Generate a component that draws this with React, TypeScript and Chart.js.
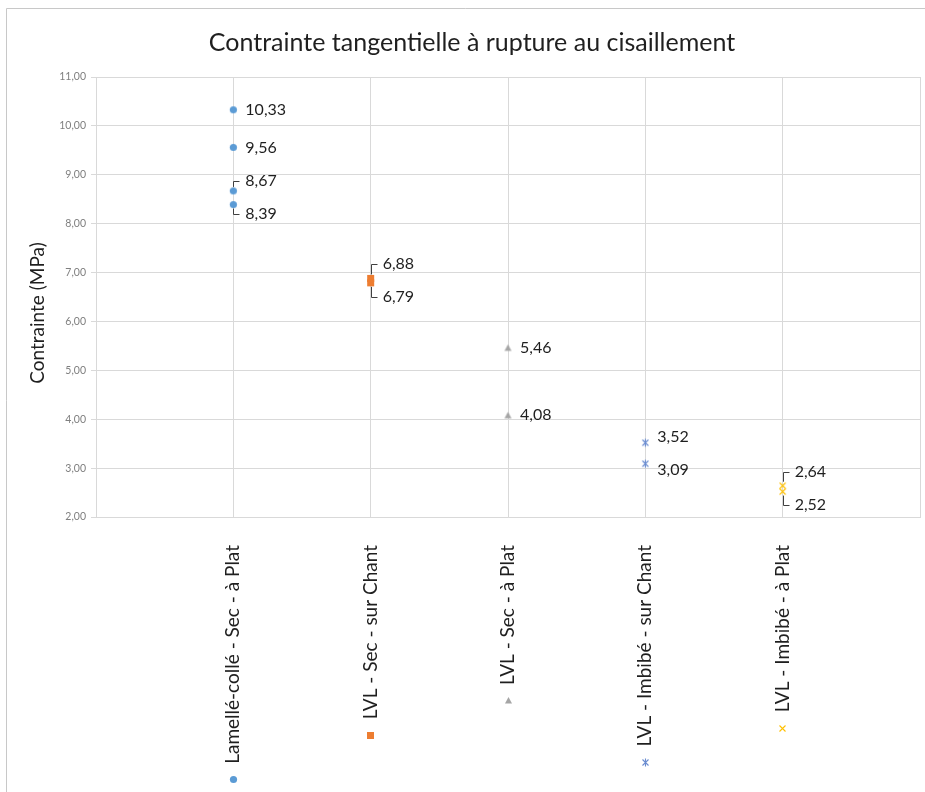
import React, { useEffect, useRef } from 'react';
import { Chart, registerables } from 'chart.js';

Chart.register(...registerables);

// ---------- data ----------
const TITLE = 'Contrainte tangentielle à rupture au cisaillement';
const Y_TITLE = 'Contrainte (MPa)';
const categories = [
  'Lamellé-collé - Sec - à Plat',
  'LVL - Sec - sur Chant',
  'LVL - Sec - à Plat',
  'LVL - Imbibé - sur Chant',
  'LVL - Imbibé - à Plat',
];
const lamelleSecPlat = [10.33, 9.56, 8.67, 8.39];
const lvlSecChant = [6.88, 6.79];
const lvlSecPlat = [5.46, 4.08];
const lvlImbibeChant = [3.52, 3.09];
const lvlImbibePlat = [2.64, 2.52];
const seriesValues = [lamelleSecPlat, lvlSecChant, lvlSecPlat, lvlImbibeChant, lvlImbibePlat];
const Y_MIN = 2;
const Y_MAX = 11;

// ---------- styles ----------
const FONT = 'Lato, "Open Sans", sans-serif';
const seriesColors = ['#5B9BD5', '#ED7D31', '#A5A5A5', '#6A8CD0', '#FFC000'];
const seriesMarkers = ['circle', 'square', 'triangle', 'star', 'x'];
const GRID = '#d9d9d9';
const TEXT = '#1f1f1f';

const fmt = (v: number) => v.toFixed(2).replace('.', ',');

function makeMarker(kind: string, color: string): HTMLCanvasElement {
  const c = document.createElement('canvas');
  c.width = 11;
  c.height = 11;
  const g = c.getContext('2d')!;
  g.fillStyle = color;
  g.strokeStyle = color;
  g.lineWidth = 1.1;
  const m = 5.5;
  if (kind === 'circle') {
    g.beginPath();
    g.arc(m, m, 3.6, 0, Math.PI * 2);
    g.fill();
  } else if (kind === 'square') {
    g.fillRect(2, 2, 7, 7);
  } else if (kind === 'triangle') {
    g.beginPath();
    g.moveTo(m, 2);
    g.lineTo(9, 8.5);
    g.lineTo(2, 8.5);
    g.closePath();
    g.fill();
  } else if (kind === 'star') {
    g.beginPath();
    g.moveTo(2.5, 2.5);
    g.lineTo(8.5, 8.5);
    g.moveTo(8.5, 2.5);
    g.lineTo(2.5, 8.5);
    g.moveTo(m, 1.5);
    g.lineTo(m, 9.5);
    g.stroke();
  } else {
    g.beginPath();
    g.moveTo(2.5, 2.5);
    g.lineTo(8.5, 8.5);
    g.moveTo(8.5, 2.5);
    g.lineTo(2.5, 8.5);
    g.stroke();
  }
  return c;
}

const X_LABEL_FONT_SIZE = 19;
const X_LABEL_PAD = 28;

export default function App() {
  const ref = useRef<HTMLCanvasElement>(null);

  useEffect(() => {
    const canvas = ref.current;
    if (!canvas) return;
    const markerImgs = seriesMarkers.map((k, i) => makeMarker(k, seriesColors[i]));

    const frame = {
      id: 'frame',
      beforeDraw(chart: any) {
        const ctx = chart.ctx;
        ctx.save();
        ctx.fillStyle = '#ffffff';
        ctx.fillRect(0, 0, chart.width, chart.height);
        ctx.strokeStyle = '#c8c8c8';
        ctx.lineWidth = 1;
        ctx.beginPath();
        ctx.moveTo(6.5, chart.height);
        ctx.lineTo(6.5, 8.5);
        ctx.lineTo(chart.width, 8.5);
        ctx.stroke();
        ctx.restore();
      },
      afterDraw(chart: any) {
        const ctx = chart.ctx;
        ctx.save();
        // y-axis title
        ctx.font = `19px ${FONT}`;
        ctx.fillStyle = TEXT;
        ctx.textAlign = 'center';
        ctx.textBaseline = 'middle';
        ctx.translate(38, 313);
        ctx.rotate(-Math.PI / 2);
        ctx.fillText(Y_TITLE, 0, 0);
        ctx.restore();

        // legend-like markers below category labels
        const xs = chart.scales.x;
        ctx.save();
        ctx.font = `${X_LABEL_FONT_SIZE}px ${FONT}`;
        categories.forEach((cat, i) => {
          const w = ctx.measureText(cat).width;
          const px = xs.getPixelForValue(i + 1);
          const py = xs.top + X_LABEL_PAD + w + 16;
          const img = markerImgs[i];
          ctx.drawImage(img, Math.round(px - img.width / 2), Math.round(py - img.height / 2));
        });
        ctx.restore();
      },
    };

    const dataLabels = {
      id: 'dataLabels',
      afterDatasetsDraw(chart: any) {
        const ctx = chart.ctx;
        ctx.save();
        ctx.font = `16px ${FONT}`;
        ctx.fillStyle = TEXT;
        ctx.textBaseline = 'middle';
        ctx.textAlign = 'left';
        chart.data.datasets.forEach((ds: any, di: number) => {
          const meta = chart.getDatasetMeta(di);
          const items = meta.data.map((el: any, i: number) => ({
            x: el.x,
            y: el.y,
            ly: el.y,
            v: ds.data[i].y,
          }));
          items.sort((a: any, b: any) => a.y - b.y);
          const G = 33;
          for (let iter = 0; iter < 30; iter++) {
            let moved = false;
            for (let i = 0; i < items.length - 1; i++) {
              const a = items[i];
              const b = items[i + 1];
              const gap = b.ly - a.ly;
              if (gap < G - 0.01) {
                const d = (G - gap) / 2;
                a.ly -= d;
                b.ly += d;
                moved = true;
              }
            }
            if (!moved) break;
          }
          items.forEach((it: any) => {
            const off = it.ly - it.y;
            if (Math.abs(off) > 6) {
              ctx.strokeStyle = '#404040';
              ctx.lineWidth = 1;
              const x0 = Math.round(it.x) + 0.5;
              const ly = Math.round(it.ly) + 0.5;
              ctx.beginPath();
              ctx.moveTo(x0, it.y + Math.sign(off) * 4);
              ctx.lineTo(x0, ly);
              ctx.lineTo(x0 + 6, ly);
              ctx.stroke();
            }
            ctx.fillText(fmt(it.v), it.x + 12, it.ly);
          });
        });
        ctx.restore();
      },
    };

    const datasets = seriesValues.map((vals, i) => ({
      label: categories[i],
      data: vals.map((v) => ({ x: i + 1, y: v })),
      pointStyle: markerImgs[i] as any,
      pointRadius: 4,
      pointHoverRadius: 4,
      backgroundColor: seriesColors[i],
      borderColor: seriesColors[i],
      showLine: false,
    }));

    const chart = new Chart(canvas, {
      type: 'scatter',
      data: { datasets },
      options: {
        responsive: false,
        animation: false,
        devicePixelRatio: 1,
        layout: { padding: { left: 22, right: 3, top: 0, bottom: 0 } },
        plugins: {
          legend: { display: false },
          tooltip: { enabled: false },
          title: {
            display: true,
            text: TITLE,
            color: TEXT,
            font: { family: FONT, size: 25, weight: 'normal' },
            padding: { top: 28, bottom: 19 },
          },
        },
        scales: {
          x: {
            type: 'linear',
            min: 0,
            max: 6,
            afterFit: (s: any) => {
              s.height = 275;
              s.paddingLeft = 0;
              s.paddingRight = 0;
            },
            ticks: {
              stepSize: 1,
              autoSkip: false,
              maxRotation: 90,
              minRotation: 90,
              padding: X_LABEL_PAD,
              color: TEXT,
              font: { family: FONT, size: X_LABEL_FONT_SIZE },
              callback: (v: any) => {
                const n = Number(v);
                return Number.isInteger(n) && n >= 1 && n <= categories.length ? categories[n - 1] : '';
              },
            },
            grid: { color: GRID, drawTicks: false },
            border: { color: GRID },
          },
          y: {
            type: 'linear',
            min: Y_MIN,
            max: Y_MAX,
            afterFit: (s: any) => {
              s.width = 74;
            },
            ticks: {
              stepSize: 1,
              padding: 5,
              color: '#7f7f7f',
              font: { family: FONT, size: 10.5 },
              callback: (v: any) => fmt(Number(v)),
            },
            grid: { color: GRID, drawTicks: true, tickLength: 5 },
            border: { color: GRID },
          },
        },
      },
      plugins: [frame, dataLabels],
    } as any);

    return () => chart.destroy();
  }, []);

  return (
    <div style={{ position: 'fixed', left: 0, top: 0, width: 925, height: 792, background: '#fff' }}>
      <canvas ref={ref} width={925} height={792} style={{ width: 925, height: 792, display: 'block' }} />
    </div>
  );
}
